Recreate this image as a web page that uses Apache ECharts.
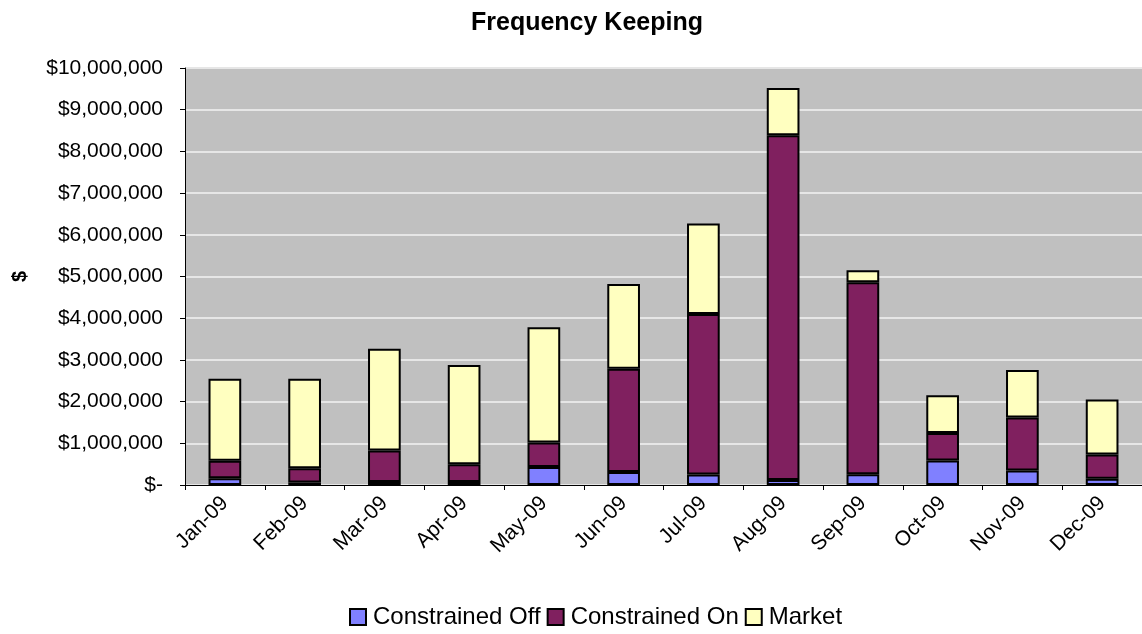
<!DOCTYPE html>
<html>
<head>
<meta charset="utf-8">
<script src="https://cdn.jsdelivr.net/npm/echarts@6/dist/echarts.min.js"></script>
<style>
  html, body { margin: 0; padding: 0; background: #fff; }
  #chart { width: 1142px; height: 634px; }
</style>
</head>
<body>
<div id="chart"></div>
<script>
// Monthly frequency keeping costs, 2009 (in $)
const months = ['Jan-09','Feb-09','Mar-09','Apr-09','May-09','Jun-09','Jul-09','Aug-09','Sep-09','Oct-09','Nov-09','Dec-09'];
const constrainedOff = [160000, 60000, 70000, 70000, 430000, 310000, 250000, 120000, 260000, 590000, 350000, 150000];
const constrainedOn  = [420000, 340000, 760000, 430000, 590000, 2480000, 3850000, 8270000, 4600000, 660000, 1270000, 580000];
const market         = [1970000, 2150000, 2440000, 2380000, 2760000, 2030000, 2170000, 1130000, 290000, 900000, 1140000, 1320000];

const FONT = '"Liberation Sans", Arial, sans-serif';

function money(v) {
  if (v === 0) return '$-';
  return '$' + v.toLocaleString('en-US');
}

const barStyle = (color) => ({ color: color, borderColor: '#000', borderWidth: 2 });

const chart = echarts.init(document.getElementById('chart'), null, { renderer: 'canvas' });
chart.setOption({
  animation: false,
  title: {
    text: 'Frequency Keeping',
    left: 466, top: 6,
    textStyle: { fontFamily: FONT, fontSize: 25, fontWeight: 'bold', color: '#000' }
  },
  legend: {
    bottom: 0, left: 344,
    itemWidth: 16, itemHeight: 16, itemGap: 6,
    icon: 'rect',
    textStyle: { fontFamily: FONT, fontSize: 24, color: '#000', padding: [0, 0, 0, 2] },
    data: ['Constrained Off', 'Constrained On', 'Market']
  },
  grid: {
    left: 185, right: 0, top: 68, bottom: 149,
    containLabel: false, outerBoundsMode: 'none',
    show: true, backgroundColor: '#C0C0C0', borderWidth: 0
  },
  xAxis: {
    type: 'category',
    data: months,
    axisLine: { lineStyle: { color: '#000', width: 1 } },
    axisTick: { show: true, alignWithLabel: false, length: 5, lineStyle: { color: '#000' } },
    axisLabel: { rotate: 45, fontFamily: FONT, fontSize: 21, color: '#000', margin: 15 }
  },
  yAxis: {
    type: 'value',
    min: 0, max: 10000000, interval: 1000000,
    name: '$',
    nameLocation: 'middle', nameGap: 155, nameRotate: 90,
    nameTextStyle: { fontFamily: FONT, fontSize: 20, fontWeight: 'bold', color: '#000' },
    axisLine: { show: true, lineStyle: { color: '#000', width: 1 } },
    axisTick: { show: true, inside: false, length: 5, lineStyle: { color: '#000' } },
    splitLine: { lineStyle: { color: '#E6E6E6', width: 2 } },
    axisLabel: { fontFamily: FONT, fontSize: 21, color: '#000', margin: 22, formatter: money }
  },
  series: [
    { name: 'Constrained Off', type: 'bar', stack: 'total', barWidth: '41%', data: constrainedOff, itemStyle: barStyle('#8080FF') },
    { name: 'Constrained On', type: 'bar', stack: 'total', barWidth: '41%', data: constrainedOn, itemStyle: barStyle('#80205F') },
    { name: 'Market', type: 'bar', stack: 'total', barWidth: '41%', data: market, itemStyle: barStyle('#FFFFC0') }
  ]
});
</script>
</body>
</html>
